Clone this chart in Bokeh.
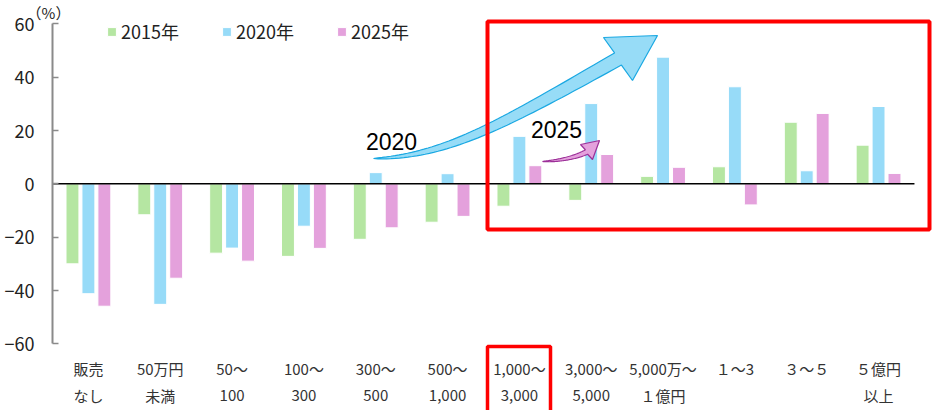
import numpy as np
from bokeh.plotting import figure
from bokeh.models import FixedTicker, Legend, LegendItem, Label, Range1d
from bokeh.core.properties import value
from bokeh.embed import file_html
from bokeh.resources import INLINE

# ---------------- data ----------------
categories = ["販売\nなし", "50万円\n未満", "50～\n100", "100～\n300", "300～\n500",
              "500～\n1,000", "1,000～\n3,000", "3,000～\n5,000", "5,000万～\n１億円",
              "１～3", "３～５", "５億円\n以上"]
y2015 = [-30.0, -11.6, -26.0, -27.2, -20.8, -14.4, -8.4, -6.2, 2.8, 6.4, 23.1, 14.5]
y2020 = [-41.2, -45.2, -24.1, -15.9, 4.2, 3.8, 17.8, 30.1, 47.5, 36.4, 4.9, 29.0]
y2025 = [-45.9, -35.4, -29.0, -24.2, -16.5, -12.2, 6.8, 11.0, 6.2, -7.9, 26.4, 3.9]
series_names = ["2015年", "2020年", "2025年"]
series_values = [y2015, y2020, y2025]
y_ticks = [-60, -40, -20, 0, 20, 40, 60]
unit_label = "（%）"

# ---------------- styles ----------------
colors = ["#b5e6a2", "#97dbf8", "#e4a1dc"]
offsets = [-0.222, 0.0, 0.222]
JP = "Noto Sans CJK JP"
W, H = 938, 410
AXIS_PX = 52          # where the value axis sits
CAT_W = 71.83         # pixels per category
x_lo = -0.5 - AXIS_PX / CAT_W
x_hi = x_lo + W / CAT_W
y_lo, y_hi = -85.0, 68.75

p = figure(width=W, height=H, x_range=Range1d(x_lo, x_hi), y_range=Range1d(y_lo, y_hi),
           x_axis_location=None, toolbar_location=None, output_backend="svg",
           min_border_left=0, min_border_right=0, min_border_top=0, min_border_bottom=0,
           outline_line_color=None, background_fill_color="white", border_fill_color="white")
p.grid.grid_line_color = None

ax = p.yaxis[0]
ax.fixed_location = -0.5
ax.ticker = FixedTicker(ticks=y_ticks)
ax.bounds = (min(y_ticks), max(y_ticks))
ax.axis_line_color = "#8a8a8a"
ax.axis_line_width = 2
ax.major_tick_line_color = "#8a8a8a"
ax.major_tick_line_width = 1.5
ax.major_tick_in = 6
ax.major_tick_out = 0
ax.minor_tick_line_color = None
ax.major_label_text_font = JP
ax.major_label_text_font_size = "18px"
ax.major_label_text_color = "#222222"
ax.major_label_standoff = 18

# pixel -> data helpers for annotations
def dx(px):
    return x_lo + px * (x_hi - x_lo) / W
def dy(py):
    return y_hi - py * (y_hi - y_lo) / H

idx = np.arange(len(categories))
renderers = []
for vals, col, off in zip(series_values, colors, offsets):
    r = p.vbar(x=idx + off, top=vals, bottom=0, width=0.18,
               fill_color=col, line_color="white", line_width=1)
    renderers.append(r)

# zero line
p.segment(x0=[-0.5], y0=[0], x1=[len(categories) - 0.5], y1=[0], line_color="black", line_width=1.5)

# category labels (two rows)
row1 = [c.split("\n")[0] for c in categories]
row2 = [c.split("\n")[1] if "\n" in c else "" for c in categories]
for row, py in ((row1, 368), (row2, 395)):
    p.text(x=idx, y=[dy(py)] * len(idx), text=row, text_align="center", text_baseline="middle",
           text_font=value(JP), text_font_size="15px", text_color="#333333")

# arrows
def bez(P, n=50):
    P = np.array(P, dtype=float)
    t = np.linspace(0, 1, n)[:, None]
    B = ((1 - t) ** 3) * P[0] + 3 * ((1 - t) ** 2) * t * P[1] + 3 * (1 - t) * t ** 2 * P[2] + t ** 3 * P[3]
    D = 3 * ((1 - t) ** 2) * (P[1] - P[0]) + 6 * (1 - t) * t * (P[2] - P[1]) + 3 * t ** 2 * (P[3] - P[2])
    D = D / np.linalg.norm(D, axis=1)[:, None]
    N = np.column_stack([-D[:, 1], D[:, 0]])
    return B, N, t[:, 0]

def arrow(P, w_end, lower_corner, tip, upper_corner, fill, line):
    B, N, t = bez(P)
    w = w_end * t ** 0.7
    lower = B + N * (w / 2)[:, None]
    upper = B - N * (w / 2)[:, None]
    pts = np.vstack([lower, [lower_corner, tip, upper_corner], upper[::-1]])
    p.patch(x=[dx(v) for v in pts[:, 0]], y=[dy(v) for v in pts[:, 1]],
            fill_color=fill, line_color=line, line_width=1.2)

arrow([(373, 158), (445, 156), (500, 125), (617.5, 58.5)], 14,
      (632, 80), (657, 35), (603, 37), "#97dcf7", "#1aa8e2")
arrow([(542, 161), (558, 160.5), (575, 157), (586, 151.5)], 5,
      (592, 159), (599, 140), (580, 144), "#e4a1dc", "#9c2f98")

# red highlight boxes
p.quad(left=[dx(487)], right=[dx(929)], top=[dy(21)], bottom=[dy(229)],
       fill_color=None, line_color="#ff0000", line_width=4)
p.quad(left=[dx(487)], right=[dx(550)], top=[dy(346)], bottom=[dy(430)],
       fill_color=None, line_color="#ff0000", line_width=3.5)

# texts
p.add_layout(Label(x=dx(391), y=dy(141), text="2020", text_align="center", text_baseline="middle",
                   text_font="Liberation Sans", text_font_size="23px", text_color="black"))
p.add_layout(Label(x=dx(556), y=dy(128.5), text="2025", text_align="center", text_baseline="middle",
                   text_font="Liberation Sans", text_font_size="23px", text_color="black"))
p.add_layout(Label(x=dx(48), y=dy(1), text=unit_label, text_align="center", text_baseline="top",
                   text_font=JP, text_font_size="15px", text_color="#222222"))

legend = Legend(items=[LegendItem(label=n, renderers=[r]) for n, r in zip(series_names, renderers)],
                orientation="horizontal", location=(106, 366), glyph_width=11, glyph_height=11,
                label_standoff=4, spacing=42, padding=0, margin=0, border_line_color=None,
                background_fill_alpha=0, label_text_font=JP, label_text_font_size="18px",
                label_text_color="#222222")
p.add_layout(legend)

open("out.html", "w").write(file_html(p, INLINE))
